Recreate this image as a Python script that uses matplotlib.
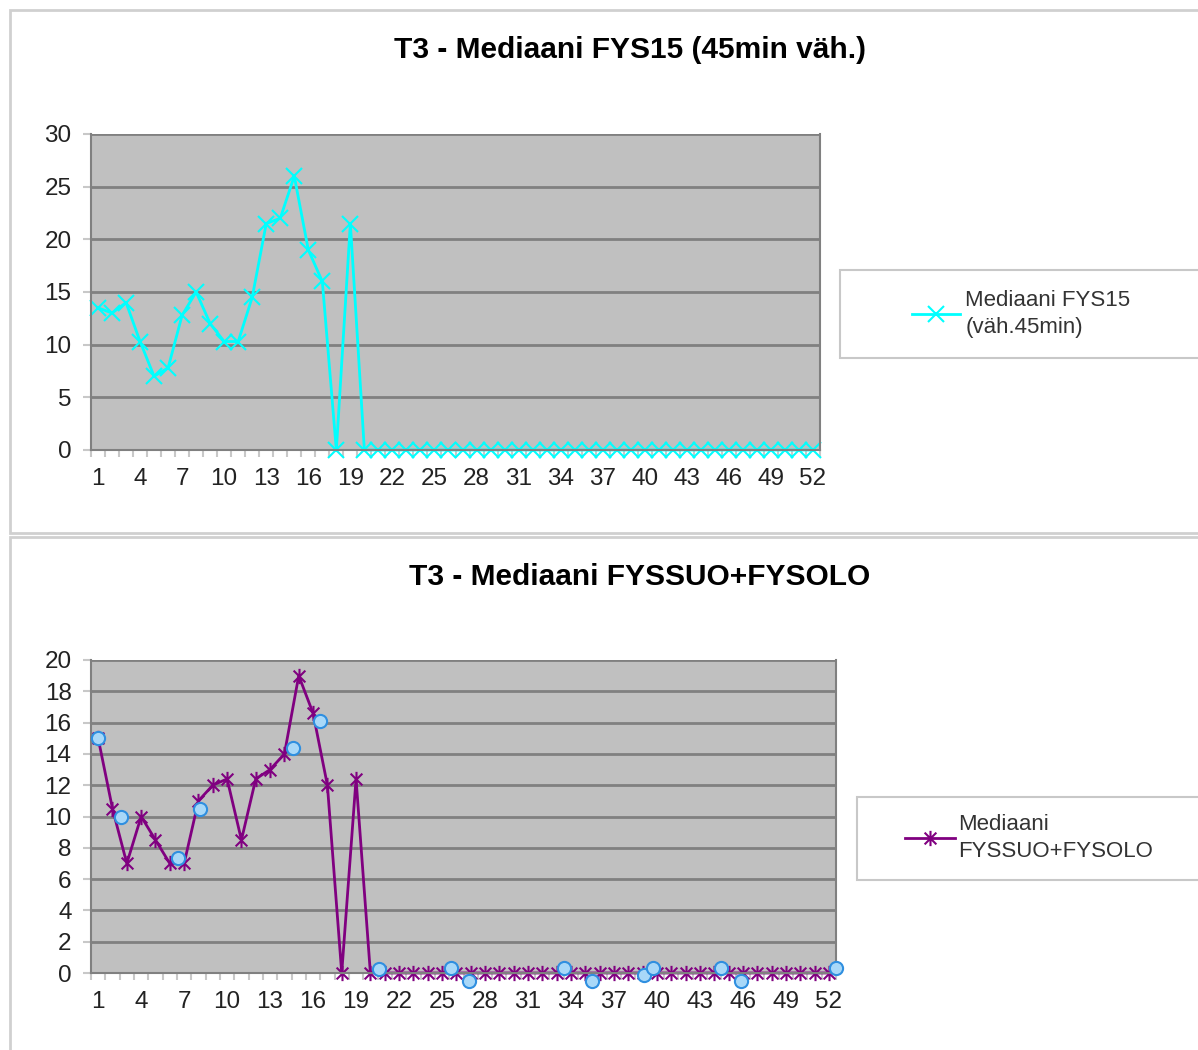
import numpy as np
import matplotlib
matplotlib.use('Agg')
import matplotlib.pyplot as plt
from matplotlib.path import Path
from matplotlib.patches import Rectangle

plt.rcParams['font.family'] = ['Liberation Sans', 'DejaVu Sans']

# data (viikot 1-52)
weeks = np.arange(1, 53)
fys15 = [13.5, 13, 14, 10.3, 7, 7.8, 12.8, 15, 12, 10.3, 10.3, 14.5, 21.5, 22, 26,
         19, 16, 0, 21.5] + [0] * 33
fyssuo_fysolo = [15, 10.5, 7, 10, 8.5, 7, 7, 11, 12, 12.4, 8.5, 12.4, 13, 14, 19,
                 16.6, 12, 0, 12.4] + [0] * 33
# blue dots drawn over the lower chart
dots_x = [1.0, 2.6, 6.6, 8.1, 14.6, 16.5, 20.6, 25.6, 26.9, 33.5, 35.5, 39.1, 39.7,
          44.5, 45.9, 52.5]
dots_y = [15.0, 10.0, 7.35, 10.5, 14.4, 16.1, 0.26, 0.3, -0.5, 0.3, -0.5, -0.1, 0.3,
          0.3, -0.5, 0.3]

title1 = 'T3 - Mediaani FYS15 (45min väh.)'
title2 = 'T3 - Mediaani FYSSUO+FYSOLO'
label1 = 'Mediaani FYS15\n(väh.45min)'
label2 = 'Mediaani\nFYSSUO+FYSOLO'

W, H = 1198, 1050
fig = plt.figure(figsize=(W / 100, H / 100), dpi=100)

# panel frames
fig.patches.append(Rectangle((10 / W, 1 - 533 / H), 1.2, 523 / H, transform=fig.transFigure,
                             facecolor='white', edgecolor='#d0d0d0', lw=2, zorder=-10))
fig.patches.append(Rectangle((10 / W, -0.05), 1.2, 1 - 537 / H + 0.05, transform=fig.transFigure,
                             facecolor='white', edgecolor='#d0d0d0', lw=2, zorder=-10))
# legend boxes
fig.patches.append(Rectangle((840 / W, 1 - 358 / H), 360 / W, 88 / H, transform=fig.transFigure,
                             facecolor='white', edgecolor='#c8c8c8', lw=1.5, zorder=-5))
fig.patches.append(Rectangle((857 / W, 1 - 880 / H), 345 / W, 83 / H, transform=fig.transFigure,
                             facecolor='white', edgecolor='#c8c8c8', lw=1.5, zorder=-5))

star = Path([(-1, -1), (1, 1), (-1, 1), (1, -1), (0, -1.3), (0, 1.3)],
            [Path.MOVETO, Path.LINETO, Path.MOVETO, Path.LINETO, Path.MOVETO, Path.LINETO])


def style(ax, ymax, ystep):
    ax.set_facecolor('#c0c0c0')
    ax.set_xlim(0.5, 52.5)
    ax.set_ylim(0, ymax)
    ax.set_yticks(np.arange(0, ymax + 1, ystep))
    ax.set_xticks(weeks[::3])
    ax.set_xticks(np.arange(0.5, 53, 1), minor=True)
    ax.tick_params(axis='x', which='major', length=0, pad=13, labelsize=17.5, labelcolor='#222222')
    ax.tick_params(axis='x', which='minor', length=5, width=1.5, color='#c8c8c8')
    ax.tick_params(axis='y', length=6, width=1.5, color='#c8c8c8', labelsize=17.5,
                   labelcolor='#222222', pad=8)
    ax.grid(axis='y', color='#808080', lw=2)
    ax.set_axisbelow(True)
    for s in ax.spines.values():
        s.set_color('#808080')
        s.set_linewidth(1.5)
    ax.spines['top'].set_visible(False)


ax1 = fig.add_axes([91 / W, 1 - 450 / H, (820 - 91) / W, (450 - 134) / H])
style(ax1, 30, 5)
ax1.plot(weeks, fys15, color='#00ffff', lw=2, marker='x', ms=11, mew=1.5,
         label=label1, clip_on=False)
fig.text(630 / W, 1 - 50 / H, title1, ha='center', va='center', fontsize=21.5,
         fontweight='bold')

ax2 = fig.add_axes([91 / W, 1 - 973 / H, (836 - 91) / W, (973 - 660) / H])
style(ax2, 20, 2)
ax2.plot(weeks, fyssuo_fysolo, color='#800080', lw=2, marker=star, ms=11, mew=1.5,
         label=label2, clip_on=False)
ax2.scatter(dots_x, dots_y, s=90, facecolor='#a8d8f8', edgecolor='#2f8fe0', lw=1.5,
            zorder=5, clip_on=False)
fig.text(640 / W, 1 - 577 / H, title2, ha='center', va='center', fontsize=21.5,
         fontweight='bold')

leg1 = ax1.legend(loc='center left', bbox_to_anchor=(912 / W, 1 - 314 / H),
                  bbox_transform=fig.transFigure, frameon=False, fontsize=16,
                  handlelength=2.15, handletextpad=0.25, borderpad=0,
                  borderaxespad=0, labelcolor='#333333')
leg2 = ax2.legend(loc='center left', bbox_to_anchor=(905 / W, 1 - 838 / H),
                  bbox_transform=fig.transFigure, frameon=False, fontsize=16,
                  handlelength=2.25, handletextpad=0.15, borderpad=0,
                  borderaxespad=0, labelcolor='#333333')
for leg in (leg1, leg2):
    for t in leg.get_texts():
        t.set_linespacing(1.35)

fig.savefig('out.png', dpi=100)
